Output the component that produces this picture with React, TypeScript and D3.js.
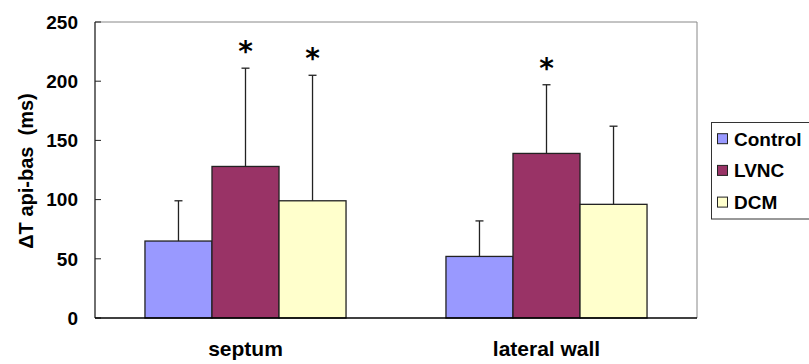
import React from "react";
import * as d3 from "d3";

const categories = ["septum", "lateral wall"];
const seriesNames = ["Control", "LVNC", "DCM"];
const seriesColors = ["#9999ff", "#993366", "#ffffcc"];
const controlMean = [65, 52];
const controlSD = [34, 30];
const lvncMean = [128, 139];
const lvncSD = [83, 58];
const dcmMean = [99, 96];
const dcmSD = [106, 66];
const significant = [
  [false, true, true],
  [false, true, false],
];
const yTicks = [0, 50, 100, 150, 200, 250];
const yTitle = "\u0394T api-bas\u00a0 (ms)";

const W = 809;
const H = 364;
const left = 95;
const right = 697;
const top = 22;
const bottom = 318;

export default function App() {
  const means = [controlMean, lvncMean, dcmMean];
  const sds = [controlSD, lvncSD, dcmSD];
  const y = d3.scaleLinear().domain([0, 250]).range([bottom, top]);
  const x0 = d3.scaleBand().domain(categories).range([left, right]).paddingInner(0).paddingOuter(0);
  const groupW = x0.bandwidth() * 0.668;
  const x1 = d3.scaleBand().domain(seriesNames).range([0, groupW]).padding(0);
  const font = "Liberation Sans, Arial, sans-serif";

  return (
    <svg width={W} height={H} style={{ position: "absolute", left: 0, top: 0 }}>
      <rect width={W} height={H} fill="#fff" />
      {/* plot frame */}
      <line x1={left} x2={right} y1={top} y2={top} stroke="#888" strokeWidth={1} />
      <line x1={right} x2={right} y1={top} y2={bottom} stroke="#888" strokeWidth={1} />
      {yTicks.map((t) => (
        <g key={t}>
          <line x1={left} x2={left + 6} y1={y(t)} y2={y(t)} stroke="#222" strokeWidth={1} />
          <text x={78} y={y(t)} dy="0.36em" textAnchor="end" fontFamily={font} fontWeight="bold" fontSize={19} fill="#000">
            {t}
          </text>
        </g>
      ))}
      {categories.map((c, ci) => {
        const gx = (x0(c) as number) + (x0.bandwidth() - groupW) / 2;
        return (
          <g key={c}>
            {seriesNames.map((s, si) => {
              const bx = gx + (x1(s) as number);
              const bw = x1.bandwidth();
              const m = means[si][ci];
              const e = m + sds[si][ci];
              const cx = bx + bw / 2;
              return (
                <g key={s}>
                  <rect x={bx} y={y(m)} width={bw} height={y(0) - y(m)} fill={seriesColors[si]} stroke="#222" strokeWidth={1.3} />
                  <line x1={cx} x2={cx} y1={y(m)} y2={y(e)} stroke="#222" strokeWidth={1.3} />
                  <line x1={cx - 4} x2={cx + 4} y1={y(e)} y2={y(e)} stroke="#222" strokeWidth={1.3} />
                  {significant[ci][si] && (
                    <text x={cx} y={y(e) - 7} textAnchor="middle" fontFamily="DejaVu Sans, sans-serif" fontWeight="bold" fontSize={28} fill="#000">
                      *
                    </text>
                  )}
                </g>
              );
            })}
            <text x={(x0(c) as number) + x0.bandwidth() / 2} y={356} textAnchor="middle" fontFamily={font} fontWeight="bold" fontSize={21} fill="#000">
              {c}
            </text>
          </g>
        );
      })}
      <line x1={left} x2={left} y1={top} y2={bottom} stroke="#222" strokeWidth={1.3} />
      <line x1={left} x2={right} y1={bottom} y2={bottom} stroke="#000" strokeWidth={1.3} />
      <text transform={`translate(33,${(89 + 253) / 2}) rotate(-90)`} textAnchor="middle" fontFamily={font} fontWeight="bold" fontSize={20} fill="#000">
        {yTitle}
      </text>
      {/* legend */}
      <rect x={711.5} y={122.5} width={110} height={96.5} fill="#fff" stroke="#333" strokeWidth={1} />
      {seriesNames.map((s, si) => (
        <g key={s}>
          <rect x={717.5} y={138.7 + si * 31.7 - 5} width={10} height={10} fill={seriesColors[si]} stroke="#222" strokeWidth={1} />
          <text x={734} y={138.7 + si * 31.7} dy="0.36em" fontFamily={font} fontWeight="bold" fontSize={19} fill="#000">
            {s}
          </text>
        </g>
      ))}
    </svg>
  );
}
